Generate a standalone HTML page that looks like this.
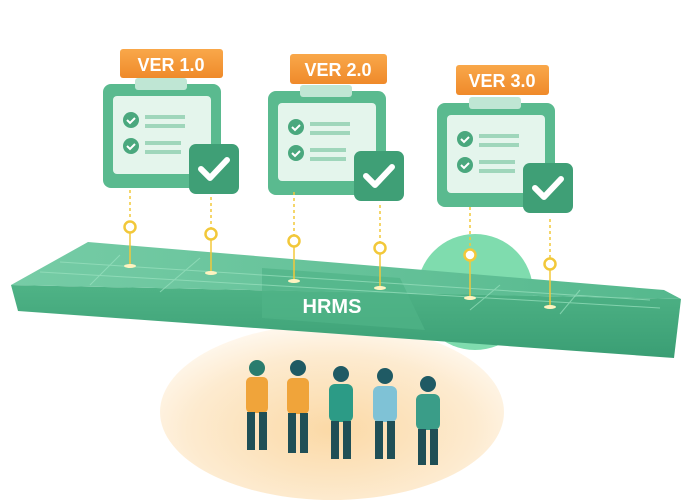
<!DOCTYPE html>
<html><head><style>body{margin:0;background:#fff}svg{display:block}</style></head><body>
<svg width="690" height="500" viewBox="0 0 690 500" xmlns="http://www.w3.org/2000/svg" font-family="Liberation Sans, sans-serif">
<defs>
<radialGradient id="peach" cx="0.5" cy="0.6" r="0.6"><stop offset="0" stop-color="#fbd9a6"/><stop offset="0.7" stop-color="#fdebd0"/><stop offset="1" stop-color="#fff8ee"/></radialGradient>
<linearGradient id="top" x1="0" y1="0" x2="1" y2="0"><stop offset="0" stop-color="#76cca6"/><stop offset="1" stop-color="#55b88d"/></linearGradient>
<linearGradient id="front" x1="0" y1="0" x2="0" y2="1"><stop offset="0" stop-color="#4fb386"/><stop offset="1" stop-color="#3a9e74"/></linearGradient>
<linearGradient id="tag" x1="0" y1="0" x2="0" y2="1"><stop offset="0" stop-color="#f9a84a"/><stop offset="1" stop-color="#ef8a2a"/></linearGradient>
<g id="clip">
<rect x="0" y="0" width="118" height="104" rx="8" fill="#5aba8f"/>
<rect x="32" y="-6" width="52" height="12" rx="3" fill="#bfe6d4"/>
<rect x="10" y="12" width="98" height="78" rx="4" fill="#e4f5ec"/>
<circle cx="28" cy="36" r="8" fill="#4aa87e"/><path d="M24 36l3 3 5-5" stroke="#fff" stroke-width="2" fill="none"/>
<rect x="42" y="31" width="40" height="4" fill="#9fd6bb"/><rect x="42" y="40" width="40" height="4" fill="#9fd6bb"/>
<circle cx="28" cy="62" r="8" fill="#4aa87e"/><path d="M24 62l3 3 5-5" stroke="#fff" stroke-width="2" fill="none"/>
<rect x="42" y="57" width="36" height="4" fill="#9fd6bb"/><rect x="42" y="66" width="36" height="4" fill="#9fd6bb"/>
<rect x="86" y="60" width="50" height="50" rx="7" fill="#3f9f76"/>
<path d="M98 85l9 9 17-18" stroke="#fff" stroke-width="6" fill="none" stroke-linecap="round" stroke-linejoin="round"/>
</g>
</defs>
<ellipse cx="332" cy="412" rx="172" ry="88" fill="url(#peach)"/>
<circle cx="475" cy="292" r="58" fill="#7fdcae"/>
<!-- platform -->
<polygon points="11,285 681,299 674,358 18,311" fill="url(#front)"/>
<polygon points="88,242 664,290 681,299 11,285" fill="url(#top)"/>
<polygon points="262,268 400,278 425,330 262,318" fill="#50b488" opacity="0.7"/>
<g stroke="#9be2c0" stroke-width="1" opacity="0.7">
<line x1="60" y1="262" x2="650" y2="300"/><line x1="40" y1="272" x2="660" y2="308"/>
<line x1="120" y1="255" x2="90" y2="285"/><line x1="200" y1="258" x2="160" y2="292"/>
<line x1="500" y1="285" x2="470" y2="310"/><line x1="580" y1="290" x2="560" y2="314"/>
</g>
<text x="332" y="313" font-size="20" font-weight="bold" fill="#fff" text-anchor="middle">HRMS</text>
<!-- clipboards -->
<use href="#clip" x="103" y="84"/>
<use href="#clip" x="268" y="91"/>
<use href="#clip" x="437" y="103"/>
<rect x="120" y="49" width="103" height="29" rx="3" fill="url(#tag)"/><text x="171" y="71" font-size="18" font-weight="bold" fill="#fff" text-anchor="middle">VER 1.0</text>
<rect x="290" y="54" width="97" height="30" rx="3" fill="url(#tag)"/><text x="338" y="76" font-size="18" font-weight="bold" fill="#fff" text-anchor="middle">VER 2.0</text>
<rect x="456" y="65" width="93" height="30" rx="3" fill="url(#tag)"/><text x="502" y="87" font-size="18" font-weight="bold" fill="#fff" text-anchor="middle">VER 3.0</text>
<!-- pins -->
<g stroke="#f2c83a" stroke-width="1.5" fill="none">
<line x1="130" y1="190" x2="130" y2="220" stroke-dasharray="3 3"/><line x1="130" y1="233" x2="130" y2="265"/><circle cx="130" cy="227" r="5.5" stroke-width="2.5" fill="#fff"/>
<line x1="211" y1="197" x2="211" y2="228" stroke-dasharray="3 3"/><line x1="211" y1="240" x2="211" y2="272"/><circle cx="211" cy="234" r="5.5" stroke-width="2.5" fill="#fff"/>
<line x1="294" y1="192" x2="294" y2="235" stroke-dasharray="3 3"/><line x1="294" y1="247" x2="294" y2="280"/><circle cx="294" cy="241" r="5.5" stroke-width="2.5" fill="#fff"/>
<line x1="380" y1="205" x2="380" y2="242" stroke-dasharray="3 3"/><line x1="380" y1="254" x2="380" y2="287"/><circle cx="380" cy="248" r="5.5" stroke-width="2.5" fill="#fff"/>
<line x1="470" y1="207" x2="470" y2="249" stroke-dasharray="3 3"/><line x1="470" y1="261" x2="470" y2="297"/><circle cx="470" cy="255" r="5.5" stroke-width="2.5" fill="#fff"/>
<line x1="550" y1="219" x2="550" y2="258" stroke-dasharray="3 3"/><line x1="550" y1="270" x2="550" y2="306"/><circle cx="550" cy="264" r="5.5" stroke-width="2.5" fill="#fff"/>
</g>
<g fill="#fff3c0"><ellipse cx="130" cy="266" rx="6" ry="2"/><ellipse cx="211" cy="273" rx="6" ry="2"/><ellipse cx="294" cy="281" rx="6" ry="2"/><ellipse cx="380" cy="288" rx="6" ry="2"/><ellipse cx="470" cy="298" rx="6" ry="2"/><ellipse cx="550" cy="307" rx="6" ry="2"/></g>
<!-- people -->
<g>
<circle cx="257" cy="368" r="8" fill="#2a7c6e"/><rect x="246" y="377" width="22" height="36" rx="5" fill="#f0a43a"/><rect x="247" y="412" width="8" height="38" fill="#1f4f56"/><rect x="259" y="412" width="8" height="38" fill="#1f4f56"/>
<circle cx="298" cy="368" r="8" fill="#1f5a64"/><rect x="287" y="378" width="22" height="36" rx="5" fill="#f0a43a"/><rect x="288" y="413" width="8" height="40" fill="#1f4f56"/><rect x="300" y="413" width="8" height="40" fill="#1f4f56"/>
<circle cx="341" cy="374" r="8" fill="#1f5a64"/><rect x="329" y="384" width="24" height="38" rx="6" fill="#2c9b86"/><rect x="331" y="421" width="8" height="38" fill="#1f4f56"/><rect x="343" y="421" width="8" height="38" fill="#1f4f56"/>
<circle cx="385" cy="376" r="8" fill="#1f5a64"/><rect x="373" y="386" width="24" height="36" rx="6" fill="#7fc2d6"/><rect x="375" y="421" width="8" height="38" fill="#1f4f56"/><rect x="387" y="421" width="8" height="38" fill="#1f4f56"/>
<circle cx="428" cy="384" r="8" fill="#1f5a64"/><rect x="416" y="394" width="24" height="36" rx="6" fill="#3a9d88"/><rect x="418" y="429" width="8" height="36" fill="#1f4f56"/><rect x="430" y="429" width="8" height="36" fill="#1f4f56"/>
</g>
</svg>
</body></html>
